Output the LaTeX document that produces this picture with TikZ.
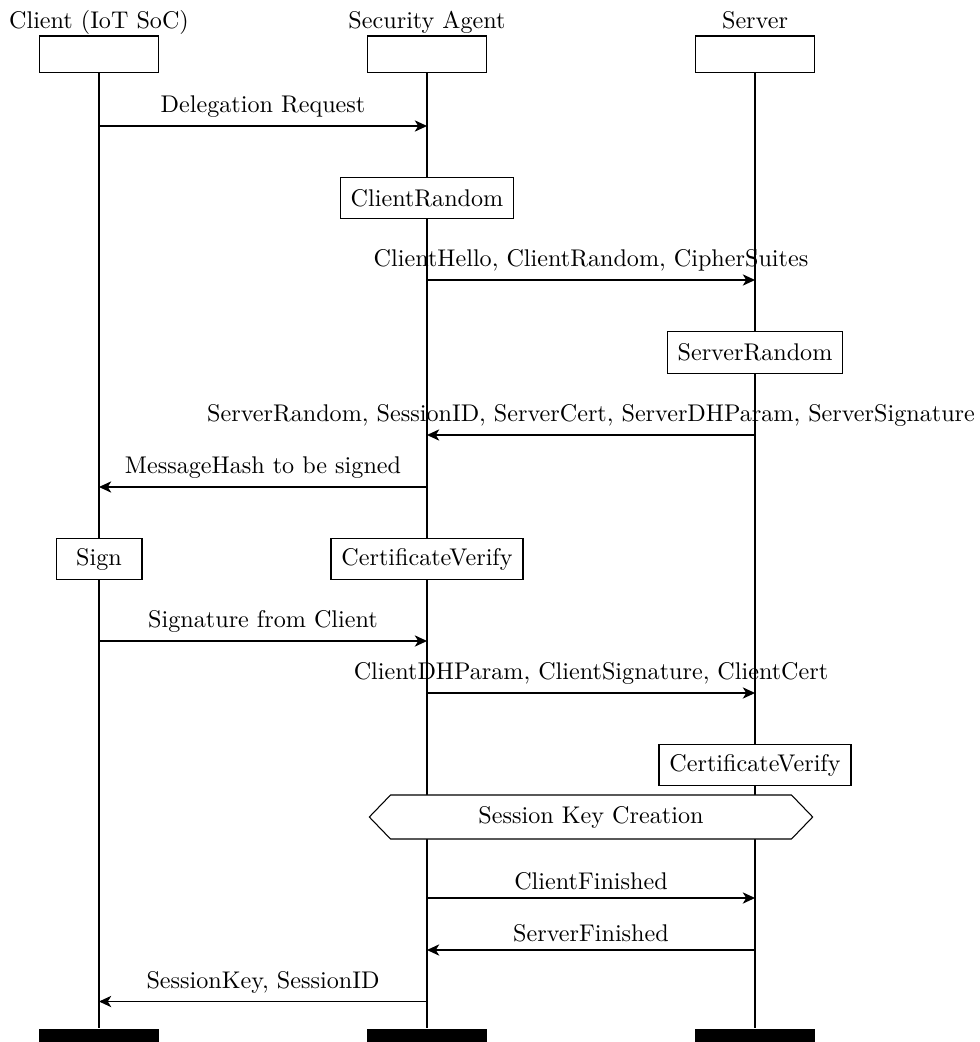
\documentclass[tikz,border=0pt]{standalone}
\usepackage{fontspec}
\usepackage{tikz}
\usetikzlibrary{arrows.meta, positioning, shapes.symbols}

\begin{document}
\begin{tikzpicture}[
    x=0.01484cm, y=-0.01484cm, line width=0.45pt,
    every node/.style={font=\fontsize{10.2pt}{12pt}\selectfont},
    inst/.style={rectangle, draw, minimum width=50.6pt, minimum height=15.6pt, inner sep=0pt},
    instname/.style={anchor=base, inner sep=0pt},
    instend/.style={rectangle, fill=black, minimum width=50.6pt, minimum height=5.5pt, inner sep=0pt},
    act/.style={rectangle, draw, fill=white, minimum width=36.3pt, minimum height=17.6pt, inner xsep=4.4pt},
    phase/.style={signal, signal to=west and east, signal pointer angle=92, draw, fill=white, minimum width=187.3pt, minimum height=18.6pt},
    msg/.style={-{Stealth[length=5.2pt, width=4.8pt, inset=1.5pt]}}
]

\useasboundingbox (0,0) rectangle (979,1042);

% Instances
\node[instname] (cllabel) at (99,29) {Client (IoT SoC)};
\node[instname] (salabel) at (427,29) {Security Agent};
\node[instname] (svlabel) at (755,29) {Server};
\node[inst] (cl) at (99,54.5) {};
\node[inst] (sa) at (427,54.5) {};
\node[inst] (sv) at (755,54.5) {};
\node[instend] (clend) at (99,1035.5) {};
\node[instend] (saend) at (427,1035.5) {};
\node[instend] (svend) at (755,1035.5) {};

% Lifelines
\draw (cl.south) -- (clend.north);
\draw (sa.south) -- (saend.north);
\draw (sv.south) -- (svend.north);

% Message levels
\coordinate (r1) at (0,126);
\coordinate (r2) at (0,280);
\coordinate (r3) at (0,435);
\coordinate (r4) at (0,487);
\coordinate (r5) at (0,641);
\coordinate (r6) at (0,693);
\coordinate (r7) at (0,898);
\coordinate (r8) at (0,950);
\coordinate (r9) at (0,1001.5);

% Local actions
\node[act] (crand) at (427,198) {ClientRandom};
\node[act] (srand) at (755,352.5) {ServerRandom};
\node[act] (sign) at (99,559) {Sign};
\node[act] (saverify) at (427,559) {CertificateVerify};
\node[act] (svverify) at (755,765) {CertificateVerify};
\node[phase] (keygen) at (591,817) {Session Key Creation};

% Messages
\draw[msg] (cl |- r1) -- (sa |- r1) node[midway, above] {Delegation Request};
\draw[msg] (sa |- r2) -- (sv |- r2) node[midway, above] {ClientHello, ClientRandom, CipherSuites};
\draw[msg] (sv |- r3) -- (sa |- r3) node[midway, above] {ServerRandom, SessionID, ServerCert, ServerDHParam, ServerSignature};
\draw[msg] (sa |- r4) -- (cl |- r4) node[midway, above] {MessageHash to be signed};
\draw[msg] (cl |- r5) -- (sa |- r5) node[midway, above] {Signature from Client};
\draw[msg] (sa |- r6) -- (sv |- r6) node[midway, above] {ClientDHParam, ClientSignature, ClientCert};
\draw[msg] (sa |- r7) -- (sv |- r7) node[midway, above] {ClientFinished};
\draw[msg] (sv |- r8) -- (sa |- r8) node[midway, above] {ServerFinished};
\draw[msg] (sa |- r9) -- (cl |- r9) node[midway, above] {SessionKey, SessionID};

\end{tikzpicture}
\end{document}
